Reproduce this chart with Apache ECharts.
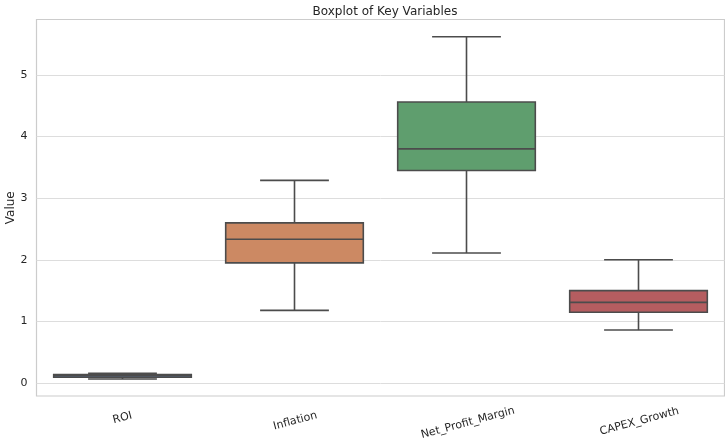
<!DOCTYPE html>
<html>
<head>
<meta charset="utf-8">
<script src="https://cdn.jsdelivr.net/npm/echarts@6/dist/echarts.min.js"></script>
<style>
  html, body { margin: 0; padding: 0; background: #fff; }
  #app { width: 725px; height: 444px; }
</style>
</head>
<body>
<div id="app"></div>
<script>
// variables on the x axis
var variables = ['ROI', 'Inflation', 'Net_Profit_Margin', 'CAPEX_Growth'];

// box statistics
var lowWhisker  = [0.066, 1.18, 2.11, 0.86];
var q1          = [0.094, 1.95, 3.45, 1.15];
var median      = [0.12, 2.335, 3.80, 1.31];
var q3          = [0.14, 2.60, 4.56, 1.50];
var highWhisker = [0.16, 3.29, 5.62, 2.00];

// seaborn "deep" palette, desaturated like the boxplot does
var boxColors = ['#5875a3', '#cc8963', '#5f9e6e', '#b55d60'];
var edgeColor = '#4c4c4c';

var rows = variables.map(function (name, i) {
    return [i, lowWhisker[i], q1[i], median[i], q3[i], highWhisker[i]];
});

var myChart = echarts.init(document.getElementById('app'));

// push longer rotated labels down a bit, like matplotlib does
var labelPad = [0, 6, 10, 7];
var rich = {};
labelPad.forEach(function (p, i) {
    rich['p' + i] = {
        fontFamily: 'DejaVu Sans',
        fontSize: 11,
        color: '#262626',
        padding: [p, 0, 0, 0]
    };
});

var option = {
    animation: false,
    title: {
        text: 'Boxplot of Key Variables',
        left: 380,
        textAlign: 'center',
        top: 1,
        textStyle: {
            fontFamily: 'DejaVu Sans',
            fontSize: 12,
            fontWeight: 'normal',
            color: '#262626'
        }
    },
    grid: {
        left: 36.5,
        right: 0.5,
        top: 19.5,
        bottom: 48,
        outerBoundsMode: 'none',
        containLabel: false,
        show: true,
        borderColor: '#cccccc',
        borderWidth: 1.2
    },
    xAxis: {
        type: 'category',
        data: variables,
        boundaryGap: true,
        axisLine: { show: false },
        axisTick: { show: false },
        splitLine: { show: false },
        axisLabel: {
            rotate: 15,
            align: 'center',
            verticalAlign: 'middle',
            margin: 22,
            interval: 0,
            formatter: function (v, i) {
                return '{p' + i + '|' + v + '}';
            },
            rich: rich
        }
    },
    yAxis: {
        type: 'value',
        min: -0.21,
        max: 5.9,
        name: 'Value',
        nameLocation: 'middle',
        nameGap: 20,
        nameMoveOverlap: false,
        nameTextStyle: {
            fontFamily: 'DejaVu Sans',
            fontSize: 12,
            color: '#262626'
        },
        axisLine: { show: false },
        axisTick: { show: false },
        axisLabel: {
            showMinLabel: false,
            showMaxLabel: false,
            margin: 9,
            fontFamily: 'DejaVu Sans',
            fontSize: 11,
            color: '#262626'
        },
        splitLine: {
            showMinLine: false,
            showMaxLine: false,
            lineStyle: { color: '#dddddd', width: 1 }
        }
    },
    series: [{
        type: 'custom',
        data: rows,
        encode: { x: 0, y: [1, 2, 3, 4, 5] },
        renderItem: function (params, api) {
            var c = api.value(0);
            var pLow = api.coord([c, api.value(1)]);
            var pQ1 = api.coord([c, api.value(2)]);
            var pMed = api.coord([c, api.value(3)]);
            var pQ3 = api.coord([c, api.value(4)]);
            var pHigh = api.coord([c, api.value(5)]);
            var bw = api.size([1, 0])[0] * 0.8;
            var cx = pMed[0];
            var line = { stroke: edgeColor, lineWidth: 1.6 };
            return {
                type: 'group',
                children: [
                    { type: 'line', shape: { x1: cx, y1: pQ3[1], x2: cx, y2: pHigh[1] }, style: line },
                    { type: 'line', shape: { x1: cx, y1: pQ1[1], x2: cx, y2: pLow[1] }, style: line },
                    { type: 'line', shape: { x1: cx - bw / 4, y1: pHigh[1], x2: cx + bw / 4, y2: pHigh[1] }, style: line },
                    { type: 'line', shape: { x1: cx - bw / 4, y1: pLow[1], x2: cx + bw / 4, y2: pLow[1] }, style: line },
                    {
                        type: 'rect',
                        shape: { x: cx - bw / 2, y: pQ3[1], width: bw, height: pQ1[1] - pQ3[1] },
                        style: { fill: boxColors[params.dataIndex], stroke: edgeColor, lineWidth: 1.6 }
                    },
                    { type: 'line', shape: { x1: cx - bw / 2, y1: pMed[1], x2: cx + bw / 2, y2: pMed[1] }, style: line }
                ]
            };
        }
    }]
};

myChart.setOption(option);
</script>
</body>
</html>
